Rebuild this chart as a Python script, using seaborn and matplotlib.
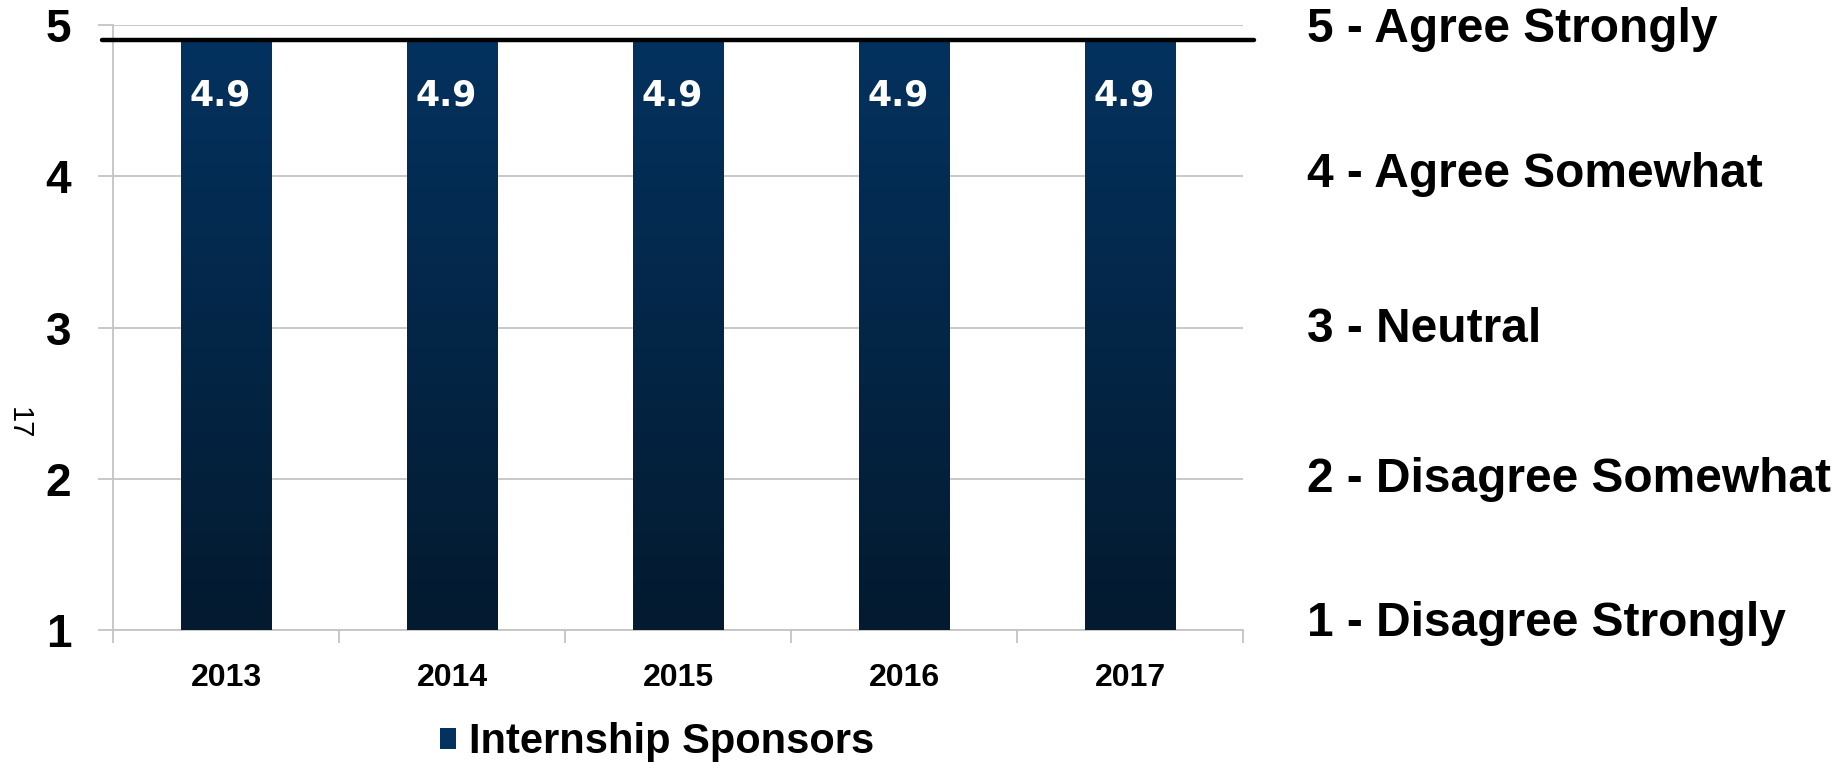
import numpy as np
import pandas as pd
import matplotlib
matplotlib.use("Agg")
import matplotlib.pyplot as plt
import matplotlib.transforms as mtransforms
from matplotlib.patches import Patch
from matplotlib.colors import LinearSegmentedColormap
import seaborn as sns

# ---- data ----
years = ["2013", "2014", "2015", "2016", "2017"]
scores = [4.9, 4.9, 4.9, 4.9, 4.9]
series_name = "Internship Sponsors"
benchmark = 4.9
scale_values = [5, 4, 3, 2, 1]
scale_labels = ["5 - Agree Strongly", "4 - Agree Somewhat", "3 - Neutral",
                "2 - Disagree Somewhat", "1 - Disagree Strongly"]
page_number = "17"

sns.set_theme(style="white")
plt.rcParams['font.family'] = ['Liberation Sans', 'DejaVu Sans']
plt.rcParams['text.color'] = 'black'
plt.rcParams['xtick.labelcolor'] = 'black'
plt.rcParams['ytick.labelcolor'] = 'black'

TOP = "#03325f"
BOTTOM = "#041a2f"
GRID = "#c4c4c4"

fig = plt.figure(figsize=(18.46, 7.63), dpi=100)
ax = fig.add_axes([0.0612, 0.1743, 0.6122, 0.7929])

df = pd.DataFrame({"year": years, "score": scores})
sns.barplot(data=df, x="year", y="score", color=TOP, width=0.4,
            saturation=1, ax=ax, zorder=2)

ax.set_xlim(-0.5, len(years) - 0.5)
ax.set_ylim(1, 5)

# gradient fill on each bar
cmap = LinearSegmentedColormap.from_list("g", [BOTTOM, TOP])
grad = np.linspace(0, 1, 256).reshape(-1, 1)
for p in ax.patches:
    x0 = p.get_x(); w = p.get_width(); h = p.get_height()
    ax.imshow(grad, cmap=cmap, origin="lower", aspect="auto",
              extent=(x0, x0 + w, 1, h), zorder=3, interpolation="bilinear")
    ax.annotate(f"{h:.1f}", (x0 + w / 2, h), xytext=(-4, -40), textcoords="offset points",
                ha="center", va="center", color="white", fontsize=25,
                fontweight="bold", family=["DejaVu Sans"], zorder=5)
ax.set_xlim(-0.5, len(years) - 0.5)
ax.set_ylim(1, 5)

# benchmark line
ax.axhline(benchmark, xmin=-0.0097, xmax=1.0097, color="black", lw=3.2,
           clip_on=False, zorder=6)

# axes styling
ax.set_xlabel("")
ax.set_ylabel("")
ax.set_yticks([1, 2, 3, 4, 5])
ax.set_yticklabels(["1", "2", "3", "4", "5"], fontsize=33, fontweight="bold")
ax.yaxis.grid(True, color=GRID, lw=1.3, zorder=0)
ax.set_axisbelow(True)
ax.tick_params(axis="y", length=11, width=1.3, color=GRID, direction="out", pad=19, left=True)
ax.set_xticks(range(len(years)))
ax.set_xticklabels(years, fontsize=23, fontweight="bold")
ax.tick_params(axis="x", which="major", length=0, pad=24)
ax.set_xticks(np.arange(-0.5, len(years), 1.0), minor=True)
ax.tick_params(axis="x", which="minor", length=9, width=1.3, color=GRID, direction="out", bottom=True)
for s in ["top", "right"]:
    ax.spines[s].set_visible(False)
for s in ["left", "bottom"]:
    ax.spines[s].set_color(GRID)
    ax.spines[s].set_linewidth(1.3)

# right-hand scale labels
trans = mtransforms.blended_transform_factory(fig.transFigure, ax.transData)
offsets = [4.97, 4.01, 2.985, 1.995, 1.04]
for v, lab in zip(offsets, scale_labels):
    ax.text(0.708, v, lab, transform=trans, ha="left", va="center",
            fontsize=34.5, fontweight="bold", color="black", clip_on=False)

# page number
fig.text(0.010, 1 - 423 / 763, page_number, rotation=270, ha="center", va="center",
         fontsize=21, color="black")

# legend
handle = Patch(facecolor=TOP, edgecolor="none")
fig.legend([handle], [series_name], loc="center", bbox_to_anchor=(0.356, 0.027),
           frameon=False, handlelength=0.38, handleheight=0.38, handletextpad=0.3,
           prop={"size": 30, "weight": "bold"})

fig.savefig("out.png", dpi=100)
